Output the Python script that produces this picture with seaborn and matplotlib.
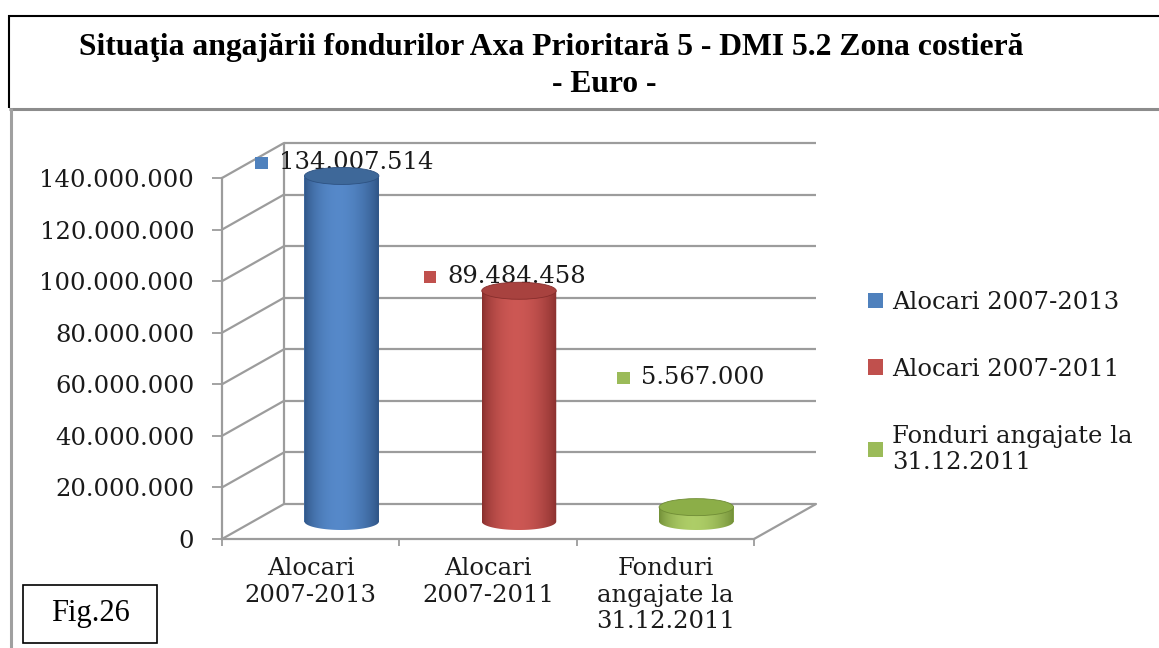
import numpy as np
import pandas as pd
import matplotlib
matplotlib.use("Agg")
import matplotlib.pyplot as plt
import matplotlib.transforms as mtransforms
from matplotlib.patches import Ellipse, PathPatch, Rectangle, Patch, ConnectionPatch
from matplotlib.lines import Line2D
from matplotlib.path import Path
from matplotlib.colors import to_rgb
from matplotlib.offsetbox import AnnotationBbox, HPacker, TextArea, DrawingArea
import seaborn as sns

# ---------------- data ----------------
categories = ["Alocari 2007-2013", "Alocari 2007-2011", "Fonduri angajate la 31.12.2011"]
tick_labels = ["Alocari\n2007-2013", "Alocari\n2007-2011", "Fonduri\nangajate la\n31.12.2011"]
legend_labels = ["Alocari 2007-2013", "Alocari 2007-2011", "Fonduri angajate la\n31.12.2011"]
values = [134007514, 89484458, 5567000]
y_ticks = [0, 20000000, 40000000, 60000000, 80000000, 100000000, 120000000, 140000000]
title_line1 = "Situaţia angajării fondurilor Axa Prioritară 5 - DMI 5.2 Zona costieră"
title_line2 = "- Euro -"
fig_label = "Fig.26"

# ---------------- style ----------------
colors = ["#4F81BD", "#C0504D", "#9BBB59"]
edge_dark = ["#2D5282", "#862E2C", "#6F8C35"]
center_light = ["#5B90D3", "#D65D59", "#B6D66E"]
top_colors = ["#3E6899", "#A8423F", "#8CAE48"]
label_offsets_pt = [(2, 9.5), (-10, 10), (-4, 93)]
GRID = "#9C9C9C"
TXT = "#1a1a1a"
SERIF_CHART = "DejaVu Serif"
SERIF_DOC = "Liberation Serif"

W, H, DPI = 1159, 648, 100
fig = plt.figure(figsize=(W / DPI, H / DPI), dpi=DPI)
fig.patch.set_facecolor("white")


def fx(px):
    return px / W


def fy(py):
    return 1 - py / H


ax = fig.add_axes([fx(222), fy(539), fx(754) - fx(222), fy(178) - fy(539)])
df = pd.DataFrame({"cat": categories, "val": values})
sns.barplot(data=df, x="cat", y="val", hue="cat", palette=colors, width=0.42,
            legend=False, ax=ax, saturation=1, zorder=2, linewidth=0)
ax.set_facecolor("none")
bars = list(ax.patches)

# 3D oblique offsets (pixels)
DX, DY = 62, 35
back = ax.transData + mtransforms.ScaledTranslation(DX / DPI, DY / DPI, fig.dpi_scale_trans)
mid = ax.transData + mtransforms.ScaledTranslation(DX / 2 / DPI, DY / 2 / DPI, fig.dpi_scale_trans)

ymax = y_ticks[-1]
ax_h_px = ax.get_position().height * H
upp = ymax / ax_h_px          # data units per pixel
eh = 17 * upp                 # ellipse height (data units)

# ---------------- walls / gridlines ----------------
gkw = dict(color=GRID, lw=1.6)
ax.hlines(y_ticks, -0.5, 2.5, transform=back, clip_on=False, zorder=0.5, **gkw)
ax.vlines([-0.5], 0, ymax, transform=back, clip_on=False, zorder=0.5, **gkw)
for t in y_ticks:
    con = ConnectionPatch(xyA=(-0.5, t), coordsA=ax.transData, xyB=(-0.5, t), coordsB=back,
                          zorder=0.5, **gkw)
    con.set_clip_on(False)
    ax.add_artist(con)
con = ConnectionPatch(xyA=(2.5, 0), coordsA=ax.transData, xyB=(2.5, 0), coordsB=back,
                      zorder=0.5, **gkw)
con.set_clip_on(False)
ax.add_artist(con)

# ---------------- cylinders ----------------
u = np.linspace(0, 1, 120)
prof = np.sin(np.pi * u) ** 0.7
prof = prof * (1 - 0.25 * u)  # right side slightly darker
for i, p in enumerate(bars):
    x0, w, h = p.get_x(), p.get_width(), p.get_height()
    cx = x0 + w / 2
    p.set_transform(mid)
    p.set_clip_on(False)
    c0 = np.array(to_rgb(edge_dark[i]))
    c1 = np.array(to_rgb(center_light[i]))
    grad = (c0[None, :] + (c1 - c0)[None, :] * prof[:, None])[None, :, :]
    tt = np.linspace(np.pi, 2 * np.pi, 60)
    verts = [(x0, h)] + [(cx + w / 2 * np.cos(a), eh / 2 * np.sin(a)) for a in tt] + [(x0 + w, h), (x0, h)]
    codes = [Path.MOVETO] + [Path.LINETO] * (len(verts) - 2) + [Path.CLOSEPOLY]
    clip = PathPatch(Path(verts, codes), transform=mid, facecolor="none", edgecolor="none")
    ax.add_patch(clip)
    im = ax.imshow(grad, extent=[x0, x0 + w, -eh / 2, h], aspect="auto",
                   interpolation="bilinear", zorder=3)
    im.set_transform(mid)
    im.set_clip_path(clip)
    top = Ellipse((cx, h), w, eh, transform=mid, facecolor=top_colors[i],
                  edgecolor=edge_dark[i], lw=0.6, zorder=4)
    top.set_clip_on(False)
    ax.add_patch(top)

    # data label
    da = DrawingArea(9, 9, 0, 0)
    da.add_artist(Rectangle((0, 0), 9, 9, facecolor=colors[i], edgecolor="none"))
    ta = TextArea(f"{values[i]:,}".replace(",", "."),
                  textprops=dict(fontsize=17.5, family=SERIF_CHART, color=TXT))
    box = HPacker(children=[da, ta], align="center", pad=0, sep=8)
    ab = AnnotationBbox(box, (cx, h), xycoords=mid, xybox=label_offsets_pt[i],
                        boxcoords="offset points", frameon=False,
                        box_alignment=(0.5, 0.5), zorder=1.5)
    ax.add_artist(ab)

ax.set_xlim(-0.5, 2.5)
ax.set_ylim(0, ymax)

# ---------------- axes styling ----------------
for s in ["top", "right"]:
    ax.spines[s].set_visible(False)
for s in ["left", "bottom"]:
    ax.spines[s].set_color(GRID)
    ax.spines[s].set_linewidth(1.6)
ax.set_yticks(y_ticks)
ax.set_yticklabels([f"{v:,}".replace(",", ".") for v in y_ticks])
ax.set_xticks([0, 1, 2])
ax.set_xticklabels(tick_labels, linespacing=1.2)
ax.set_xticks([-0.5, 0.5, 1.5, 2.5], minor=True)
ax.tick_params(axis="y", direction="out", length=7, width=1.3, color=GRID, pad=13,
               labelsize=17.5, labelcolor=TXT)
ax.tick_params(axis="x", which="major", length=0, pad=13, labelsize=17.5, labelcolor=TXT)
ax.tick_params(axis="x", which="minor", direction="out", length=5, width=1.3, color=GRID)
for lab in ax.get_xticklabels() + ax.get_yticklabels():
    lab.set_family(SERIF_CHART)
ax.set_xlabel("")
ax.set_ylabel("")

# ---------------- legend ----------------
handles = [Patch(facecolor=c, edgecolor="none") for c in colors]
leg = fig.legend(handles, legend_labels, loc="upper left",
                 bbox_to_anchor=(fx(868), fy(291)), frameon=False,
                 prop=dict(family=SERIF_CHART, size=17.5), handlelength=0.6,
                 handleheight=0.6, handletextpad=0.4, labelspacing=1.8,
                 borderpad=0, borderaxespad=0)
for t in leg.get_texts():
    t.set_color(TXT)
    t.set_linespacing(1.2)

# ---------------- document frame ----------------
def fline(x1, y1, x2, y2, color, lw):
    fig.add_artist(Line2D([fx(x1), fx(x2)], [fy(y1), fy(y2)], color=color, lw=lw,
                          solid_capstyle="butt"))

fline(8, 15.5, W, 15.5, "black", 1.5)
fline(9, 15, 9, 108, "black", 1.5)
fline(9, 108.5, W, 108.5, "#8C8C8C", 2.2)
fline(10.5, 108, 10.5, H, "#A0A0A0", 2.2)

fig.text(fx(551), fy(47), title_line1, ha="center", va="center", fontsize=22.8,
         family=SERIF_DOC, weight="bold", color="black")
fig.text(fx(604), fy(85), title_line2, ha="center", va="center", fontsize=22.8,
         family=SERIF_DOC, weight="bold", color="black")

fig.add_artist(Rectangle((fx(23), fy(643)), fx(157) - fx(23), fy(585) - fy(643),
                         transform=fig.transFigure, fill=False, edgecolor="black", lw=1.2))
fig.text(fx(90), fy(614), fig_label, ha="center", va="center", fontsize=22,
         family=SERIF_DOC, color="black")

fig.savefig("out.png", dpi=DPI, facecolor="white")
